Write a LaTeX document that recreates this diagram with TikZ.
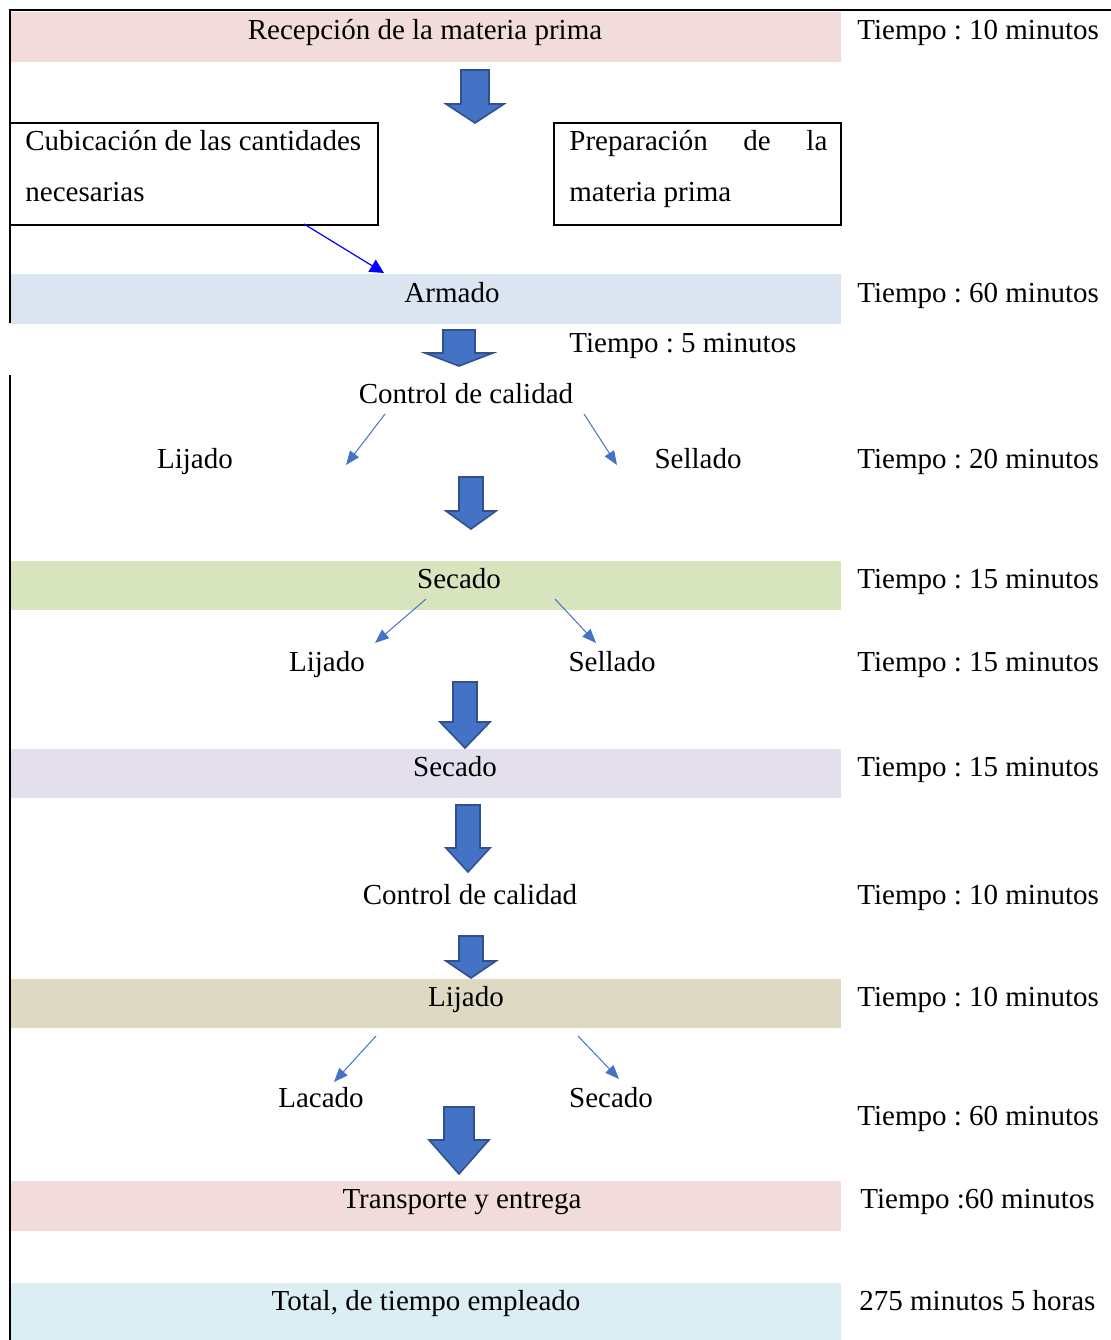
\documentclass[tikz,border=0pt]{standalone}
\usepackage{fontspec}
\setmainfont{Liberation Serif}
\usetikzlibrary{arrows.meta}
\definecolor{bpink}{HTML}{F2DCDB}
\definecolor{bblue}{HTML}{DBE5F1}
\definecolor{bgreen}{HTML}{D7E4BD}
\definecolor{blav}{HTML}{E4DFEC}
\definecolor{btan}{HTML}{DDD9C3}
\definecolor{bcyan}{HTML}{DAEEF3}
\definecolor{afill}{HTML}{4472C4}
\definecolor{aline}{HTML}{2F528F}
\frenchspacing
\newcommand{\blockarr}[6]{%
  \filldraw[fill=afill,draw=aline,line width=0.8pt,line join=miter]
    (#1-#3,#2) -- (#1+#3,#2) -- (#1+#3,#5) -- (#1+#4,#5) -- (#1,#6)
    -- (#1-#4,#5) -- (#1-#3,#5) -- cycle;}
\begin{document}
\begin{tikzpicture}[x=0.5pt,y=-0.5pt,
  txt/.style={inner sep=0pt,anchor=base,font=\fontsize{14.5}{25.5}\selectfont},
  txtw/.style={txt,anchor=base west},
  frame/.style={line width=0.8pt,draw=black},
  thin/.style={draw=afill,line width=0.5pt,-{Triangle[length=7pt,width=5.5pt]}},
  thinb/.style={draw=blue,line width=0.6pt,-{Triangle[length=7pt,width=7pt]}}]
\useasboundingbox (0,0) rectangle (1111,1340);
% bands
\fill[bpink] (10,12) rectangle (841,62);
\fill[bblue] (10,274) rectangle (841,324);
\fill[bgreen] (10,561) rectangle (841,610);
\fill[blav] (10,749) rectangle (841,798);
\fill[btan] (10,979) rectangle (841,1028);
\fill[bpink] (10,1181) rectangle (841,1231);
\fill[bcyan] (10,1283) rectangle (841,1340);
% frame lines
\draw[frame] (1111,10) -- (10,10) -- (10,323);
\draw[frame] (10,375) -- (10,1340);
\draw[frame] (10,123) rectangle (378,225);
\draw[frame] (554,123) rectangle (841,225);
% texts
\node[txt] (recep) at (425,39) {Recepción de la materia prima};
\node[txtw,align=left] (cubic) at (25,201) {Cubicación de las cantidades\\necesarias};
\node[txtw,align=left] (prep) at (569,201) {\makebox[129pt][s]{Preparación de la}\\materia prima};
\node[txt] (armado) at (452,302) {Armado};
\node[txtw] (t5) at (569,352) {Tiempo : 5 minutos};
\node[txt] (cc1) at (466,403) {Control de calidad};
\node[txt] (lij1) at (195,468) {Lijado};
\node[txt] (sel1) at (698,468) {Sellado};
\node[txt] (sec1) at (459,588) {Secado};
\node[txt] (lij2) at (327,671) {Lijado};
\node[txt] (sel2) at (612,671) {Sellado};
\node[txt] (sec2) at (455,776) {Secado};
\node[txt] (cc2) at (470,904) {Control de calidad};
\node[txt] (lij3) at (466,1006) {Lijado};
\node[txt] (lac) at (321,1107) {Lacado};
\node[txt] (sec3) at (611,1107) {Secado};
\node[txt] (trans) at (462,1208) {Transporte y entrega};
\node[txt] (total) at (426,1310) {Total, de tiempo empleado};
% times
\node[txtw] (ta) at (857,39) {Tiempo : 10 minutos};
\node[txtw] (tb) at (857,302) {Tiempo : 60 minutos};
\node[txtw] (tc) at (857,468) {Tiempo : 20 minutos};
\node[txtw] (td) at (857,588) {Tiempo : 15 minutos};
\node[txtw] (te) at (857,671) {Tiempo : 15 minutos};
\node[txtw] (tf) at (857,776) {Tiempo : 15 minutos};
\node[txtw] (tg) at (857,904) {Tiempo : 10 minutos};
\node[txtw] (th) at (857,1006) {Tiempo : 10 minutos};
\node[txtw] (ti) at (857,1125) {Tiempo : 60 minutos};
\node[txtw] (tj) at (860,1208) {Tiempo :60 minutos};
\node[txtw] (tk) at (859,1310) {275 minutos 5 horas};
% block arrows
\blockarr{475}{70}{14}{29}{104}{123}
\blockarr{459}{330}{16}{34}{353}{366}
\blockarr{471}{477}{12}{25}{511}{529}
\blockarr{465}{682}{12}{25}{722}{748}
\blockarr{468}{805}{12}{22}{848}{872}
\blockarr{471}{936}{12}{25}{961}{978}
\blockarr{459}{1107}{15}{30}{1140}{1174}
% thin arrows
\coordinate (a1s) at (304,224); \coordinate (a1e) at (384,273);
\draw[thinb] (a1s) -- (a1e);
\coordinate (b1s) at (385,414); \coordinate (b1e) at (346,465);
\coordinate (b2s) at (584,414); \coordinate (b2e) at (617,465);
\coordinate (c1s) at (426,599); \coordinate (c1e) at (375,643);
\coordinate (c2s) at (555,599); \coordinate (c2e) at (596,643);
\coordinate (d1s) at (376,1036); \coordinate (d1e) at (334,1082);
\coordinate (d2s) at (578,1036); \coordinate (d2e) at (619,1079);
\draw[thin] (b1s) -- (b1e);
\draw[thin] (b2s) -- (b2e);
\draw[thin] (c1s) -- (c1e);
\draw[thin] (c2s) -- (c2e);
\draw[thin] (d1s) -- (d1e);
\draw[thin] (d2s) -- (d2e);
\end{tikzpicture}
\end{document}
